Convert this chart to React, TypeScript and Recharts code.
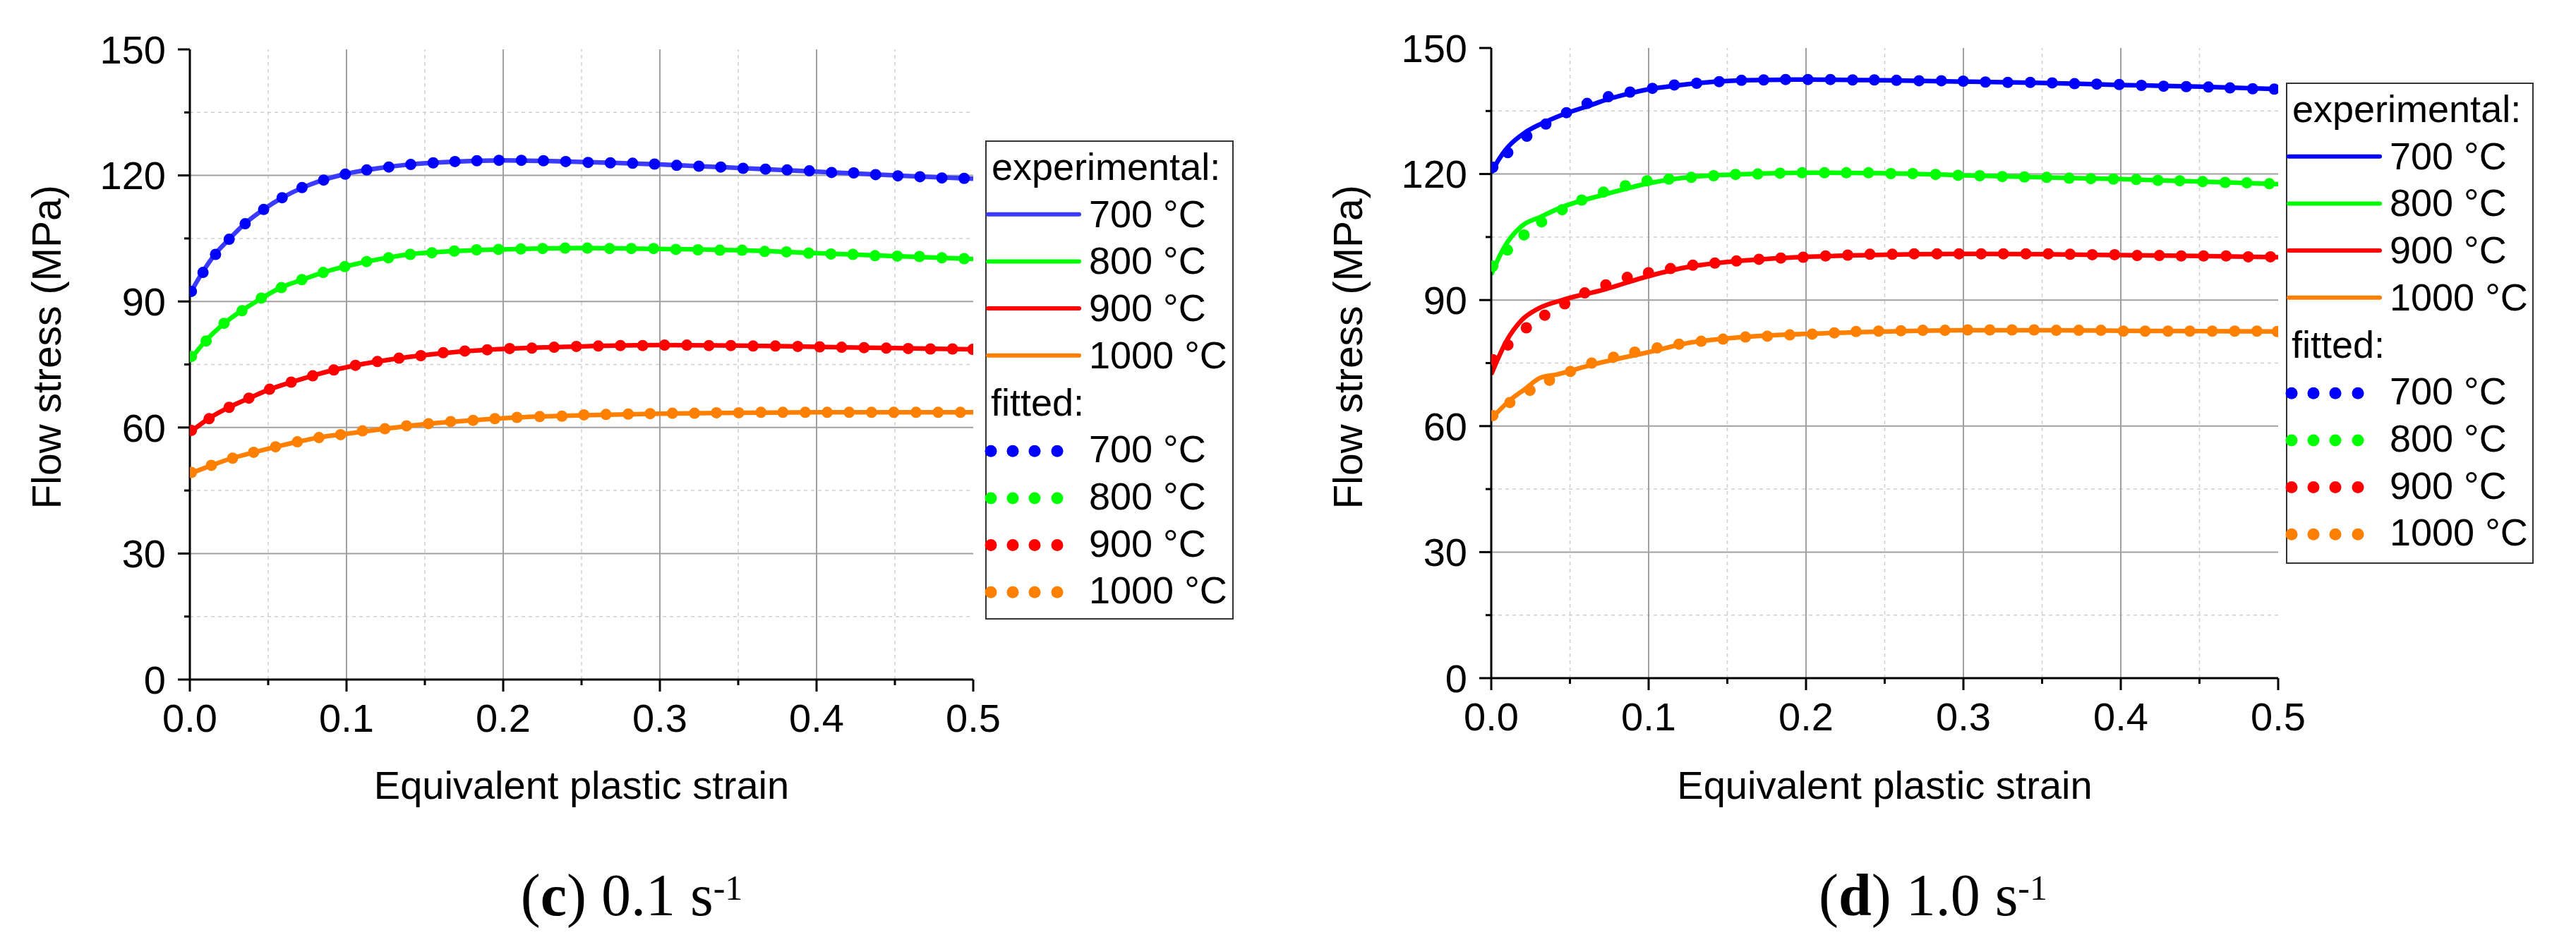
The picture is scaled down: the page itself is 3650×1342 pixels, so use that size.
import React from 'react';
import { LineChart, Line, XAxis, YAxis, ReferenceLine, Legend } from 'recharts';

const SANS = '"Liberation Sans", Arial, Helvetica, sans-serif';
const SERIF = '"Liberation Serif", "Times New Roman", serif';

// ---------- categories / tick labels ----------
const temperatures = ['700 °C', '800 °C', '900 °C', '1000 °C'];
const xTicks = [0, 0.05, 0.1, 0.15, 0.2, 0.25, 0.3, 0.35, 0.4, 0.45, 0.5];
const yTicks = [0, 15, 30, 45, 60, 75, 90, 105, 120, 135, 150];
const xMajorGrid = [0.1, 0.2, 0.3, 0.4];
const xMinorGrid = [0.05, 0.15, 0.25, 0.35, 0.45];
const yMajorGrid = [30, 60, 90, 120];
const yMinorGrid = [15, 45, 75, 105, 135];

// ---------- (c) 0.1 s-1 : experimental curves [strain, stress MPa] ----------
const expC700: [number, number][] = [
  [0, 91.8], [0.008, 96.9], [0.016, 101.2], [0.025, 104.8], [0.035, 108.5], [0.047, 111.9],
  [0.059, 114.7], [0.072, 117.1], [0.085, 118.9], [0.1, 120.4], [0.12, 121.7], [0.14, 122.6],
  [0.17, 123.3], [0.2, 123.6], [0.23, 123.4], [0.27, 123.0], [0.3, 122.6], [0.35, 121.8],
  [0.4, 120.9], [0.45, 120.0], [0.5, 119.2],
];
const expC800: [number, number][] = [
  [0, 76.0], [0.01, 80.6], [0.022, 84.8], [0.033, 87.8], [0.046, 90.8], [0.058, 93.3],
  [0.072, 95.2], [0.085, 96.9], [0.1, 98.4], [0.12, 100.0], [0.14, 101.2], [0.17, 102.0],
  [0.2, 102.4], [0.25, 102.7], [0.3, 102.5], [0.35, 102.2], [0.4, 101.5], [0.45, 100.8], [0.5, 100.1],
];
const expC900: [number, number][] = [
  [0, 58.8], [0.012, 62.1], [0.025, 64.8], [0.038, 67.0], [0.051, 69.1], [0.065, 70.8],
  [0.078, 72.3], [0.092, 73.7], [0.106, 74.8], [0.12, 75.7], [0.14, 76.8], [0.17, 78.0],
  [0.2, 78.7], [0.25, 79.3], [0.3, 79.6], [0.35, 79.5], [0.4, 79.2], [0.45, 78.9], [0.5, 78.6],
];
const expC1000: [number, number][] = [
  [0, 49.0], [0.014, 51.0], [0.027, 52.7], [0.041, 54.1], [0.055, 55.4], [0.069, 56.6],
  [0.082, 57.6], [0.1, 58.5], [0.125, 59.7], [0.15, 60.8], [0.18, 61.7], [0.21, 62.4],
  [0.25, 62.9], [0.3, 63.3], [0.35, 63.5], [0.4, 63.6], [0.5, 63.6],
];

// ---------- (c) 0.1 s-1 : fitted points ----------
const fitC700: [number, number][] = [
  [0.001, 92.4], [0.0084, 96.9], [0.0164, 101.2], [0.0251, 104.8], [0.0353, 108.5], [0.0471, 111.9],
  [0.0589, 114.7], [0.0716, 117.1], [0.0854, 118.9], [0.0992, 120.3], [0.1129, 121.3], [0.127, 122.0],
  [0.141, 122.6], [0.1553, 123.0], [0.1692, 123.3], [0.1832, 123.5], [0.1973, 123.6], [0.2116, 123.6],
  [0.2257, 123.5], [0.2399, 123.3], [0.2542, 123.1], [0.2684, 123.0], [0.2826, 122.9], [0.2966, 122.7],
  [0.3107, 122.4], [0.3249, 122.2], [0.3389, 122.0], [0.3531, 121.7], [0.3674, 121.5], [0.3812, 121.3],
  [0.3954, 121.1], [0.4096, 120.7], [0.4237, 120.6], [0.4377, 120.2], [0.4519, 119.9], [0.466, 119.7],
  [0.48, 119.4], [0.4942, 119.3],
];
const fitC800: [number, number][] = [
  [0.001, 76.9], [0.0104, 80.6], [0.0218, 84.8], [0.0333, 87.8], [0.0456, 90.8], [0.0584, 93.3],
  [0.0715, 95.2], [0.0851, 96.9], [0.0989, 98.3], [0.1128, 99.5], [0.1268, 100.4], [0.1407, 101.2],
  [0.1545, 101.6], [0.1688, 102.0], [0.183, 102.3], [0.197, 102.4], [0.2113, 102.5], [0.2252, 102.6],
  [0.2395, 102.7], [0.2537, 102.7], [0.2679, 102.6], [0.2818, 102.6], [0.296, 102.6], [0.3102, 102.4],
  [0.3243, 102.3], [0.3383, 102.2], [0.3525, 102.2], [0.3669, 101.9], [0.3808, 101.8], [0.395, 101.5],
  [0.4092, 101.3], [0.4232, 101.2], [0.4373, 100.9], [0.4515, 100.8], [0.4657, 100.7], [0.48, 100.4],
  [0.4942, 100.2],
];
const fitC900: [number, number][] = [
  [0.001, 59.3], [0.0123, 62.1], [0.0251, 64.8], [0.0377, 67.0], [0.0509, 69.1], [0.0647, 70.8],
  [0.0784, 72.3], [0.0919, 73.7], [0.1057, 74.8], [0.1197, 75.7], [0.1335, 76.5], [0.1474, 77.1],
  [0.1617, 77.8], [0.1755, 78.2], [0.1898, 78.5], [0.2041, 78.8], [0.2183, 78.9], [0.2325, 79.1],
  [0.2467, 79.3], [0.2607, 79.4], [0.2748, 79.5], [0.289, 79.5], [0.303, 79.6], [0.3172, 79.6],
  [0.3313, 79.5], [0.3453, 79.5], [0.3595, 79.4], [0.3737, 79.4], [0.388, 79.3], [0.402, 79.2],
  [0.416, 79.1], [0.4303, 79.0], [0.4445, 78.9], [0.4585, 78.8], [0.4727, 78.7], [0.4868, 78.7],
  [0.4997, 78.6],
];
const fitC1000: [number, number][] = [
  [0.001, 49.3], [0.0137, 51.0], [0.0273, 52.7], [0.0407, 54.1], [0.0547, 55.4], [0.0686, 56.6],
  [0.0824, 57.6], [0.0962, 58.3], [0.1102, 59.2], [0.1245, 59.7], [0.1383, 60.4], [0.1523, 60.9],
  [0.1665, 61.4], [0.1808, 61.7], [0.1947, 62.1], [0.2088, 62.4], [0.2233, 62.6], [0.2375, 62.7],
  [0.2515, 63.0], [0.2656, 63.1], [0.2798, 63.2], [0.2938, 63.3], [0.308, 63.4], [0.3221, 63.4],
  [0.3361, 63.5], [0.3503, 63.5], [0.3645, 63.6], [0.3785, 63.6], [0.3928, 63.6], [0.4068, 63.6],
  [0.4208, 63.6], [0.4351, 63.6], [0.4493, 63.6], [0.4635, 63.6], [0.4776, 63.6], [0.4918, 63.6],
];

// ---------- (d) 1.0 s-1 : experimental curves ----------
const expD700: [number, number][] = [
  [0, 120.3], [0.005, 123.6], [0.0103, 126.3], [0.0208, 129.7], [0.035, 132.5], [0.048, 134.5],
  [0.061, 136.1], [0.074, 137.8], [0.088, 139.2], [0.102, 140.3], [0.116, 141.0], [0.13, 141.6],
  [0.16, 142.3], [0.2, 142.5], [0.25, 142.3], [0.3, 142.0], [0.35, 141.7], [0.4, 141.2],
  [0.45, 140.8], [0.5, 140.2],
];
const expD800: [number, number][] = [
  [0, 96.1], [0.0081, 102.5], [0.0193, 107.6], [0.0313, 109.8], [0.0448, 112.1], [0.0717, 115.1],
  [0.1, 117.8], [0.127, 119.3], [0.155, 119.9], [0.2, 120.3], [0.25, 120.2], [0.3, 119.7],
  [0.35, 119.2], [0.4, 118.8], [0.45, 118.2], [0.5, 117.6],
];
const expD900: [number, number][] = [
  [0, 72.3], [0.0096, 80.2], [0.0193, 85.2], [0.03, 88.0], [0.046, 90.1], [0.0717, 92.5],
  [0.1, 95.7], [0.127, 98.0], [0.154, 99.2], [0.184, 100.0], [0.2275, 100.6], [0.27, 100.9],
  [0.3, 101.0], [0.35, 100.9], [0.4, 100.7], [0.45, 100.5], [0.5, 100.2],
];
const expD1000: [number, number][] = [
  [0, 61.7], [0.012, 66.2], [0.021, 68.7], [0.0313, 71.5], [0.0418, 72.3], [0.064, 74.6],
  [0.1, 77.6], [0.127, 79.9], [0.154, 81.0], [0.184, 81.7], [0.23, 82.3], [0.3, 82.8],
  [0.35, 82.8], [0.4, 82.7], [0.45, 82.6], [0.5, 82.5],
];

// ---------- (d) 1.0 s-1 : fitted points ----------
const fitD700: [number, number][] = [
  [0.001, 121.6], [0.0105, 125.1], [0.0226, 129.0], [0.0347, 131.9], [0.0478, 134.6], [0.0609, 136.8],
  [0.0744, 138.4], [0.0882, 139.5], [0.1024, 140.4], [0.1163, 141.2], [0.1305, 141.6], [0.1448, 142.0],
  [0.159, 142.3], [0.1731, 142.4], [0.187, 142.5], [0.2012, 142.5], [0.2155, 142.5], [0.2296, 142.4],
  [0.2434, 142.4], [0.2575, 142.3], [0.2718, 142.2], [0.286, 142.2], [0.2999, 142.1], [0.314, 141.9],
  [0.3282, 141.8], [0.3425, 141.8], [0.3564, 141.7], [0.3706, 141.5], [0.3847, 141.4], [0.399, 141.3],
  [0.4131, 141.1], [0.4272, 140.9], [0.4416, 140.8], [0.4557, 140.7], [0.4694, 140.5], [0.4838, 140.3],
  [0.4975, 140.2],
];
const fitD800: [number, number][] = [
  [0.001, 98.1], [0.0103, 101.9], [0.0208, 105.5], [0.032, 108.6], [0.0451, 111.5], [0.0575, 113.8],
  [0.0713, 115.7], [0.0852, 117.2], [0.099, 118.4], [0.1129, 118.8], [0.1271, 119.2], [0.1413, 119.6],
  [0.1552, 119.9], [0.1693, 120.0], [0.1835, 120.2], [0.1975, 120.3], [0.2117, 120.3], [0.2256, 120.3],
  [0.2397, 120.3], [0.2539, 120.1], [0.2678, 120.1], [0.2823, 119.9], [0.2966, 119.7], [0.3104, 119.6],
  [0.3247, 119.4], [0.3388, 119.3], [0.3529, 119.2], [0.3672, 119.0], [0.381, 118.9], [0.3953, 118.8],
  [0.4098, 118.7], [0.4236, 118.5], [0.4375, 118.4], [0.452, 118.2], [0.4663, 118.0], [0.4801, 117.9],
  [0.4944, 117.7],
];
const fitD900: [number, number][] = [
  [0.001, 75.8], [0.0106, 79.3], [0.0223, 83.4], [0.034, 86.4], [0.0467, 89.1], [0.0594, 91.7],
  [0.0728, 93.6], [0.0864, 95.4], [0.0999, 96.5], [0.1139, 97.5], [0.1281, 98.3], [0.1421, 98.8],
  [0.1558, 99.3], [0.1701, 99.7], [0.184, 100.0], [0.1982, 100.2], [0.2124, 100.5], [0.2265, 100.7],
  [0.2406, 100.9], [0.2548, 100.9], [0.2687, 101.0], [0.2832, 101.0], [0.2972, 101.0], [0.3113, 101.0],
  [0.3254, 101.0], [0.3397, 101.0], [0.3539, 101.0], [0.3678, 100.9], [0.3819, 100.8], [0.3961, 100.8],
  [0.4104, 100.6], [0.4245, 100.6], [0.4384, 100.5], [0.4526, 100.5], [0.4669, 100.5], [0.481, 100.3],
  [0.4951, 100.3],
];
const fitD1000: [number, number][] = [
  [0.001, 62.5], [0.0118, 65.6], [0.0246, 68.5], [0.037, 70.9], [0.0503, 73.0], [0.0638, 75.0],
  [0.0777, 76.4], [0.0912, 77.6], [0.1054, 78.6], [0.1193, 79.5], [0.1334, 80.2], [0.1473, 80.7],
  [0.1615, 81.2], [0.1754, 81.4], [0.1897, 81.7], [0.2039, 81.9], [0.218, 82.2], [0.2318, 82.5],
  [0.2461, 82.6], [0.2603, 82.7], [0.2742, 82.8], [0.2883, 82.8], [0.3027, 82.9], [0.3168, 82.9],
  [0.3309, 82.9], [0.3449, 82.9], [0.359, 82.8], [0.3733, 82.8], [0.3874, 82.8], [0.4016, 82.6],
  [0.4155, 82.6], [0.43, 82.6], [0.4439, 82.6], [0.4581, 82.6], [0.4724, 82.6], [0.4865, 82.6],
  [0.4994, 82.5],
];

// ---------- colours ----------
const dotColors = ['#0000ff', '#00ff00', '#ff0000', '#ff8000'];
const lineColorsC = ['#3b3bff', '#00ff00', '#ff0000', '#ff8000'];
const lineColorsD = ['#0000ff', '#00ff00', '#ff0000', '#ff8000'];

const toPts = (arr: [number, number][]) => arr.map(([x, y]) => ({ x, y }));

const TICK_SIZE = 17;
const TICK_MARGIN = 17;

function XTick(props: any) {
  const { x, y, payload } = props;
  const v = payload.value as number;
  const major = Math.round(v * 100) % 10 === 0;
  const axisY = y - TICK_SIZE - TICK_MARGIN;
  return (
    <g>
      <line x1={x} x2={x} y1={axisY} y2={axisY + (major ? 17 : 8)} stroke="#000" strokeWidth={3} />
      {major && (
        <text x={x} y={y} dy="0.71em" textAnchor="middle" fontFamily={SANS} fontSize={56} fill="#000">
          {v.toFixed(1)}
        </text>
      )}
    </g>
  );
}

function YTick(props: any) {
  const { x, y, payload } = props;
  const v = payload.value as number;
  const major = v % 30 === 0;
  const axisX = x + TICK_SIZE + TICK_MARGIN;
  return (
    <g>
      <line x1={axisX - (major ? 17 : 8)} x2={axisX} y1={y} y2={y} stroke="#000" strokeWidth={3} />
      {major && (
        <text x={x} y={y} dy="0.355em" textAnchor="end" fontFamily={SANS} fontSize={56} fill="#000">
          {v}
        </text>
      )}
    </g>
  );
}

function YTitle() {
  return (
    <text
      x={86}
      y={492}
      transform="rotate(-90 86 492)"
      textAnchor="middle"
      fontFamily={SANS}
      fontSize={57}
      fill="#000"
    >
      Flow stress (MPa)
    </text>
  );
}

function XTitle(props: any) {
  const cx = props.cx;
  return (
    <text x={cx} y={1132} textAnchor="middle" fontFamily={SANS} fontSize={56} fill="#000">
      Equivalent plastic strain
    </text>
  );
}

function LegendBox({ w, h, lineColors }: { w: number; h: number; lineColors: string[] }) {
  const base = (i: number) => 56 + i * 66.7;
  const dotXs = [8, 39, 70, 102];
  return (
    <svg width={w} height={h} style={{ display: 'block', overflow: 'visible' }}>
      <rect x={1} y={1} width={w - 2} height={h - 2} fill="#fff" stroke="#333" strokeWidth={2} />
      <text x={9} y={base(0)} fontFamily={SANS} fontSize={54} fill="#000">experimental:</text>
      {temperatures.map((t, i) => (
        <g key={'e' + t}>
          <line x1={4} x2={133} y1={base(i + 1) - 18} y2={base(i + 1) - 18} stroke={lineColors[i]} strokeWidth={6} strokeLinecap="round" />
          <text x={147} y={base(i + 1)} fontFamily={SANS} fontSize={54} fill="#000">{t}</text>
        </g>
      ))}
      <text x={8} y={base(5)} fontFamily={SANS} fontSize={54} fill="#000">fitted:</text>
      {temperatures.map((t, i) => (
        <g key={'f' + t}>
          {dotXs.map((cx) => (
            <circle key={cx} cx={cx} cy={base(i + 6) - 16} r={8.5} fill={dotColors[i]} />
          ))}
          <text x={147} y={base(i + 6)} fontFamily={SANS} fontSize={54} fill="#000">{t}</text>
        </g>
      ))}
    </svg>
  );
}

type PanelProps = {
  left: number;
  plotRight: number;
  plotTop: number;
  plotBottom: number;
  exp: [number, number][][];
  fit: [number, number][][];
  lineColors: string[];
  legend: { x: number; y: number; w: number; h: number };
};

const CHART_W = 1800;
const CHART_H = 1342;
const Y_AXIS_W = 269;
const X_AXIS_H = 150;

function Panel({ left, plotRight, plotTop, plotBottom, exp, fit, lineColors, legend }: PanelProps) {
  const cx = (Y_AXIS_W + plotRight) / 2;
  return (
    <div style={{ position: 'absolute', left, top: 0, width: CHART_W, height: CHART_H }}>
      <LineChart
        width={CHART_W}
        height={CHART_H}
        margin={{ top: plotTop, right: CHART_W - plotRight, bottom: CHART_H - plotBottom - X_AXIS_H, left: 0 }}
      >
        {xMinorGrid.map((v) => (
          <ReferenceLine key={'xm' + v} x={v} stroke="#cfcfcf" strokeWidth={1.5} strokeDasharray="5 5" zIndex={-100} />
        ))}
        {yMinorGrid.map((v) => (
          <ReferenceLine key={'ym' + v} y={v} stroke="#cfcfcf" strokeWidth={1.5} strokeDasharray="5 5" zIndex={-100} />
        ))}
        {xMajorGrid.map((v) => (
          <ReferenceLine key={'xM' + v} x={v} stroke="#a0a0a0" strokeWidth={2} zIndex={-100} />
        ))}
        {yMajorGrid.map((v) => (
          <ReferenceLine key={'yM' + v} y={v} stroke="#a0a0a0" strokeWidth={2} zIndex={-100} />
        ))}
        <XAxis
          dataKey="x"
          type="number"
          domain={[0, 0.5]}
          ticks={xTicks}
          interval={0}
          allowDataOverflow
          height={X_AXIS_H}
          tickSize={TICK_SIZE}
          tickMargin={TICK_MARGIN}
          tickLine={false}
          axisLine={{ stroke: '#000', strokeWidth: 3 }}
          tick={<XTick />}
          label={<XTitle cx={cx} />}
        />
        <YAxis
          type="number"
          domain={[0, 150]}
          ticks={yTicks}
          interval={0}
          allowDataOverflow
          width={Y_AXIS_W}
          tickSize={TICK_SIZE}
          tickMargin={TICK_MARGIN}
          tickLine={false}
          axisLine={{ stroke: '#000', strokeWidth: 3 }}
          tick={<YTick />}
          label={<YTitle />}
        />
        {exp.map((arr, i) => (
          <Line
            key={'exp' + i}
            data={toPts(arr)}
            dataKey="y"
            type="monotone"
            stroke={lineColors[i]}
            strokeWidth={6.5}
            dot={false}
            activeDot={false}
            isAnimationActive={false}
            legendType="none"
          />
        ))}
        {fit.map((arr, i) => (
          <Line
            key={'fit' + i}
            data={toPts(arr)}
            dataKey="y"
            stroke="none"
            strokeWidth={0}
            dot={{ r: 8, fill: dotColors[i], stroke: 'none', strokeWidth: 0 }}
            activeDot={false}
            isAnimationActive={false}
            legendType="none"
          />
        ))}
        <Legend
          layout="vertical"
          align="center"
          verticalAlign="middle"
          wrapperStyle={{ left: legend.x, top: legend.y, width: legend.w, height: legend.h, right: 'auto', bottom: 'auto' }}
          content={() => <LegendBox w={legend.w} h={legend.h} lineColors={lineColors} />}
        />
      </LineChart>
    </div>
  );
}

function Caption({ x, letter, rate }: { x: number; letter: string; rate: string }) {
  return (
    <text x={x} y={1297} textAnchor="middle" fontFamily={SERIF} fontSize={84} fill="#000">
      (<tspan fontWeight="bold">{letter}</tspan>) {rate} s
      <tspan dy={-22} fontSize={50}>-1</tspan>
    </text>
  );
}

export default function App() {
  return (
    <div style={{ position: 'absolute', left: 0, top: 0, width: 3650, height: 1342, background: '#fff', overflow: 'hidden' }}>
      <Panel
        left={0}
        plotRight={1379}
        plotTop={70}
        plotBottom={963}
        exp={[expC700, expC800, expC900, expC1000]}
        fit={[fitC700, fitC800, fitC900, fitC1000]}
        lineColors={lineColorsC}
        legend={{ x: 1396, y: 199, w: 352, h: 679 }}
      />
      <Panel
        left={1844}
        plotRight={1384}
        plotTop={68}
        plotBottom={961}
        exp={[expD700, expD800, expD900, expD1000]}
        fit={[fitD700, fitD800, fitD900, fitD1000]}
        lineColors={lineColorsD}
        legend={{ x: 1395, y: 117, w: 351, h: 682 }}
      />
      <svg width={3650} height={1342} style={{ position: 'absolute', left: 0, top: 0, pointerEvents: 'none' }}>
        <Caption x={895} letter="c" rate="0.1" />
        <Caption x={2739} letter="d" rate="1.0" />
      </svg>
    </div>
  );
}
